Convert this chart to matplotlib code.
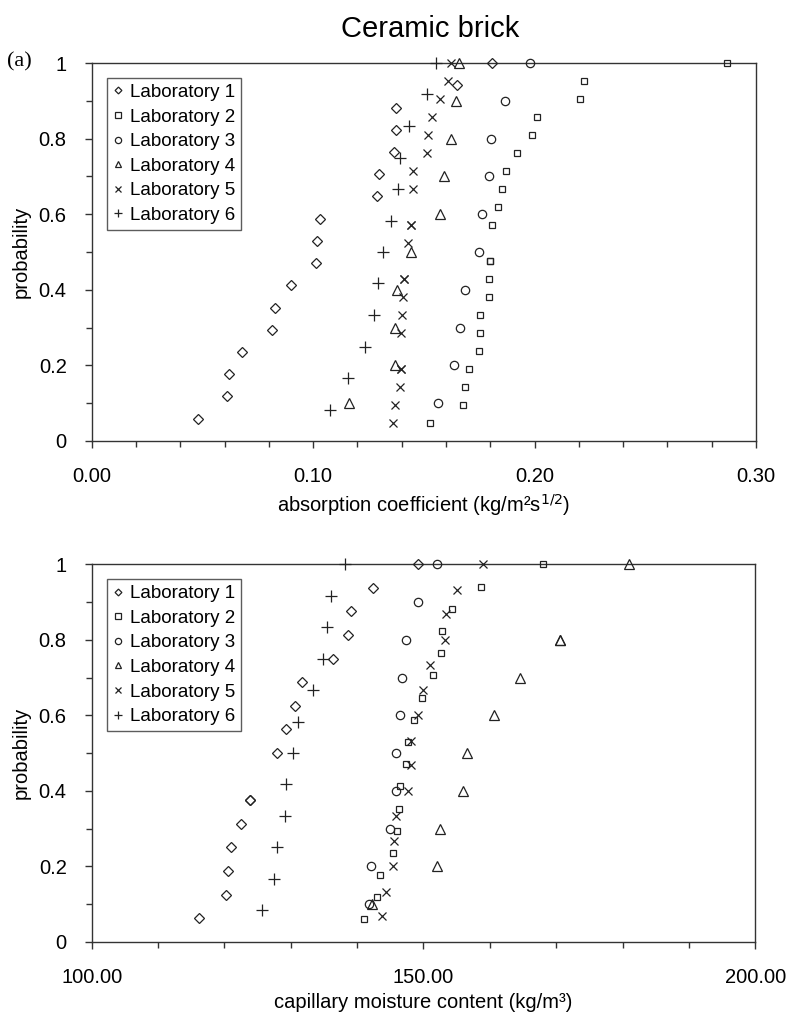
import matplotlib
matplotlib.use("Agg")
import matplotlib.pyplot as plt
from matplotlib.ticker import MultipleLocator, FormatStrFormatter, FuncFormatter

plt.rcParams['font.family'] = ['Liberation Sans', 'DejaVu Sans']

labels = ["Laboratory 1", "Laboratory 2", "Laboratory 3",
          "Laboratory 4", "Laboratory 5", "Laboratory 6"]

# ---------------- (a) absorption coefficient ----------------
a_lab1_x = [0.0479, 0.0609, 0.0621, 0.0677, 0.0813, 0.0828, 0.0901, 0.1011, 0.1016,
            0.1030, 0.1289, 0.1297, 0.1366, 0.1372, 0.1372, 0.1649, 0.1806]
a_lab1_y = [0.059, 0.118, 0.176, 0.235, 0.294, 0.353, 0.412, 0.471, 0.529,
            0.588, 0.647, 0.706, 0.765, 0.824, 0.882, 0.941, 1.0]

a_lab2_x = [0.1529, 0.1675, 0.1687, 0.1705, 0.1747, 0.1753, 0.1754, 0.1794, 0.1794,
            0.1798, 0.1798, 0.1809, 0.1834, 0.1855, 0.1870, 0.1919, 0.1989, 0.2012,
            0.2205, 0.2223, 0.2870]
a_lab2_y = [0.048, 0.095, 0.143, 0.190, 0.238, 0.286, 0.333, 0.381, 0.429,
            0.476, 0.476, 0.571, 0.619, 0.667, 0.714, 0.762, 0.810, 0.857,
            0.905, 0.952, 1.0]

a_lab3_x = [0.1563, 0.1636, 0.1663, 0.1688, 0.1747, 0.1763, 0.1795, 0.1801, 0.1866, 0.1979]
a_lab3_y = [0.1, 0.2, 0.3, 0.4, 0.5, 0.6, 0.7, 0.8, 0.9, 1.0]

a_lab4_x = [0.1163, 0.1368, 0.1371, 0.1377, 0.1442, 0.1574, 0.1590, 0.1622, 0.1643, 0.1657]
a_lab4_y = [0.1, 0.2, 0.3, 0.4, 0.5, 0.6, 0.7, 0.8, 0.9, 1.0]

a_lab5_x = [0.1360, 0.1368, 0.1392, 0.1395, 0.1395, 0.1396, 0.1400, 0.1405, 0.1410,
            0.1410, 0.1427, 0.1440, 0.1440, 0.1449, 0.1452, 0.1512, 0.1517, 0.1538,
            0.1574, 0.1610, 0.1622]
a_lab5_y = [0.048, 0.095, 0.143, 0.190, 0.190, 0.286, 0.333, 0.381, 0.429,
            0.429, 0.524, 0.571, 0.571, 0.667, 0.714, 0.762, 0.810, 0.857,
            0.905, 0.952, 1.0]

a_lab6_x = [0.1074, 0.1156, 0.1234, 0.1273, 0.1293, 0.1314, 0.1351, 0.1384, 0.1393,
            0.1432, 0.1514, 0.1553]
a_lab6_y = [0.083, 0.167, 0.250, 0.333, 0.417, 0.500, 0.583, 0.667, 0.750,
            0.833, 0.917, 1.0]

# ---------------- (b) capillary moisture content ----------------
b_lab1_x = [116.2, 120.2, 120.6, 121.0, 122.5, 123.9, 123.9, 128.0, 129.25, 130.65,
            131.7, 136.4, 138.6, 139.1, 142.45, 149.25]
b_lab1_y = [0.0625, 0.125, 0.1875, 0.25, 0.3125, 0.375, 0.375, 0.5, 0.5625, 0.625,
            0.6875, 0.75, 0.8125, 0.875, 0.9375, 1.0]

b_lab2_x = [141.1, 143.0, 143.5, 145.4, 146.0, 146.3, 146.5, 147.3, 147.7, 148.6,
            149.85, 151.5, 152.7, 152.8, 154.3, 158.6, 168.0]
b_lab2_y = [0.059, 0.118, 0.176, 0.235, 0.294, 0.353, 0.412, 0.471, 0.529, 0.588,
            0.647, 0.706, 0.765, 0.824, 0.882, 0.941, 1.0]

b_lab3_x = [141.85, 142.05, 144.9, 145.8, 145.9, 146.5, 146.7, 147.4, 149.15, 152.0]
b_lab3_y = [0.1, 0.2, 0.3, 0.4, 0.5, 0.6, 0.7, 0.8, 0.9, 1.0]

b_lab4_x = [142.2, 152.05, 152.5, 155.9, 156.5, 160.7, 164.6, 170.6, 170.6, 181.0]
b_lab4_y = [0.1, 0.2, 0.3, 0.4, 0.5, 0.6, 0.7, 0.8, 0.8, 1.0]

b_lab5_x = [143.8, 144.3, 145.4, 145.6, 145.8, 147.7, 148.1, 148.1, 149.25, 149.9,
            151.0, 153.3, 153.4, 155.1, 158.9]
b_lab5_y = [0.067, 0.133, 0.2, 0.267, 0.333, 0.4, 0.467, 0.533, 0.6, 0.667,
            0.733, 0.8, 0.867, 0.933, 1.0]

b_lab6_x = [125.6, 127.5, 128.0, 129.1, 129.3, 130.35, 131.15, 133.3, 134.8, 135.4,
            136.0, 138.2]
b_lab6_y = [0.083, 0.167, 0.250, 0.333, 0.417, 0.500, 0.583, 0.667, 0.750,
            0.833, 0.917, 1.0]

ink = '#222222'
styles = [
    dict(marker='D', ms=4.6, mfc='none', mec=ink, mew=0.9),
    dict(marker='s', ms=5.0, mfc='none', mec=ink, mew=0.9),
    dict(marker='o', ms=6.0, mfc='none', mec=ink, mew=0.9),
    dict(marker='^', ms=6.5, mfc='none', mec=ink, mew=0.9),
    dict(marker='x', ms=6.2, mfc='none', mec=ink, mew=0.9),
    dict(marker='+', ms=8.0, mfc='none', mec=ink, mew=0.9),
]

fig = plt.figure(figsize=(7.89, 10.18), dpi=100)
ax1 = fig.add_axes([0.1162, 0.5668, 0.842, 0.3713])
ax2 = fig.add_axes([0.1162, 0.0749, 0.841, 0.3708])

fs = 14.5
lfs = 13.5


def style_axes(ax):
    for sp in ax.spines.values():
        sp.set_color('#333333')
        sp.set_linewidth(1.0)
        sp.set_zorder(0.5)
    ax.set_ylim(0, 1)
    ax.yaxis.set_major_locator(MultipleLocator(0.2))
    ax.yaxis.set_minor_locator(MultipleLocator(0.1))
    ax.yaxis.set_major_formatter(FuncFormatter(lambda v, p: ('%g' % round(v, 2))))
    ax.tick_params(which='both', direction='out', color='#333333', labelsize=fs,
                   width=1.0)
    ax.tick_params(which='major', length=5)
    ax.tick_params(which='minor', length=4)
    ax.tick_params(axis='x', which='both', pad=14)
    ax.tick_params(axis='y', which='both', pad=13)
    ax.set_ylabel('probability', fontsize=fs, labelpad=6)


series_a = [(a_lab1_x, a_lab1_y), (a_lab2_x, a_lab2_y), (a_lab3_x, a_lab3_y),
            (a_lab4_x, a_lab4_y), (a_lab5_x, a_lab5_y), (a_lab6_x, a_lab6_y)]
series_b = [(b_lab1_x, b_lab1_y), (b_lab2_x, b_lab2_y), (b_lab3_x, b_lab3_y),
            (b_lab4_x, b_lab4_y), (b_lab5_x, b_lab5_y), (b_lab6_x, b_lab6_y)]

for ax, series in ((ax1, series_a), (ax2, series_b)):
    for (xs, ys), st, lab in zip(series, styles, labels):
        ax.plot(xs, ys, linestyle='none', label=lab, clip_on=False, zorder=3, **st)
    style_axes(ax)
    leg = ax.legend(loc='upper left', bbox_to_anchor=(0.023, 0.96), fontsize=lfs,
                    frameon=True, fancybox=False, borderpad=0.3, labelspacing=0.4,
                    handlelength=0.6, handletextpad=0.35, borderaxespad=0,
                    markerscale=0.75)
    leg.get_frame().set_edgecolor('#333333')
    leg.get_frame().set_linewidth(1.0)

ax1.set_xlim(0, 0.30)
ax1.xaxis.set_major_locator(MultipleLocator(0.10))
ax1.xaxis.set_minor_locator(MultipleLocator(0.02))
ax1.xaxis.set_major_formatter(FormatStrFormatter('%.2f'))
ax1.set_xlabel(r'absorption coefficient (kg/m²s$^{1/2}$)', fontsize=fs, labelpad=4)

ax2.set_xlim(100, 200)
ax2.xaxis.set_major_locator(MultipleLocator(50))
ax2.xaxis.set_minor_locator(MultipleLocator(10))
ax2.xaxis.set_major_formatter(FormatStrFormatter('%.2f'))
ax2.set_xlabel('capillary moisture content (kg/m³)', fontsize=fs, labelpad=4)

fig.text(0.545, 0.972, 'Ceramic brick', ha='center', va='center', fontsize=21)
fig.text(0.009, 0.939, '(a)', ha='left', va='center', fontsize=16,
         family=['Liberation Serif', 'DejaVu Serif'])

fig.savefig('out.png', dpi=100)
